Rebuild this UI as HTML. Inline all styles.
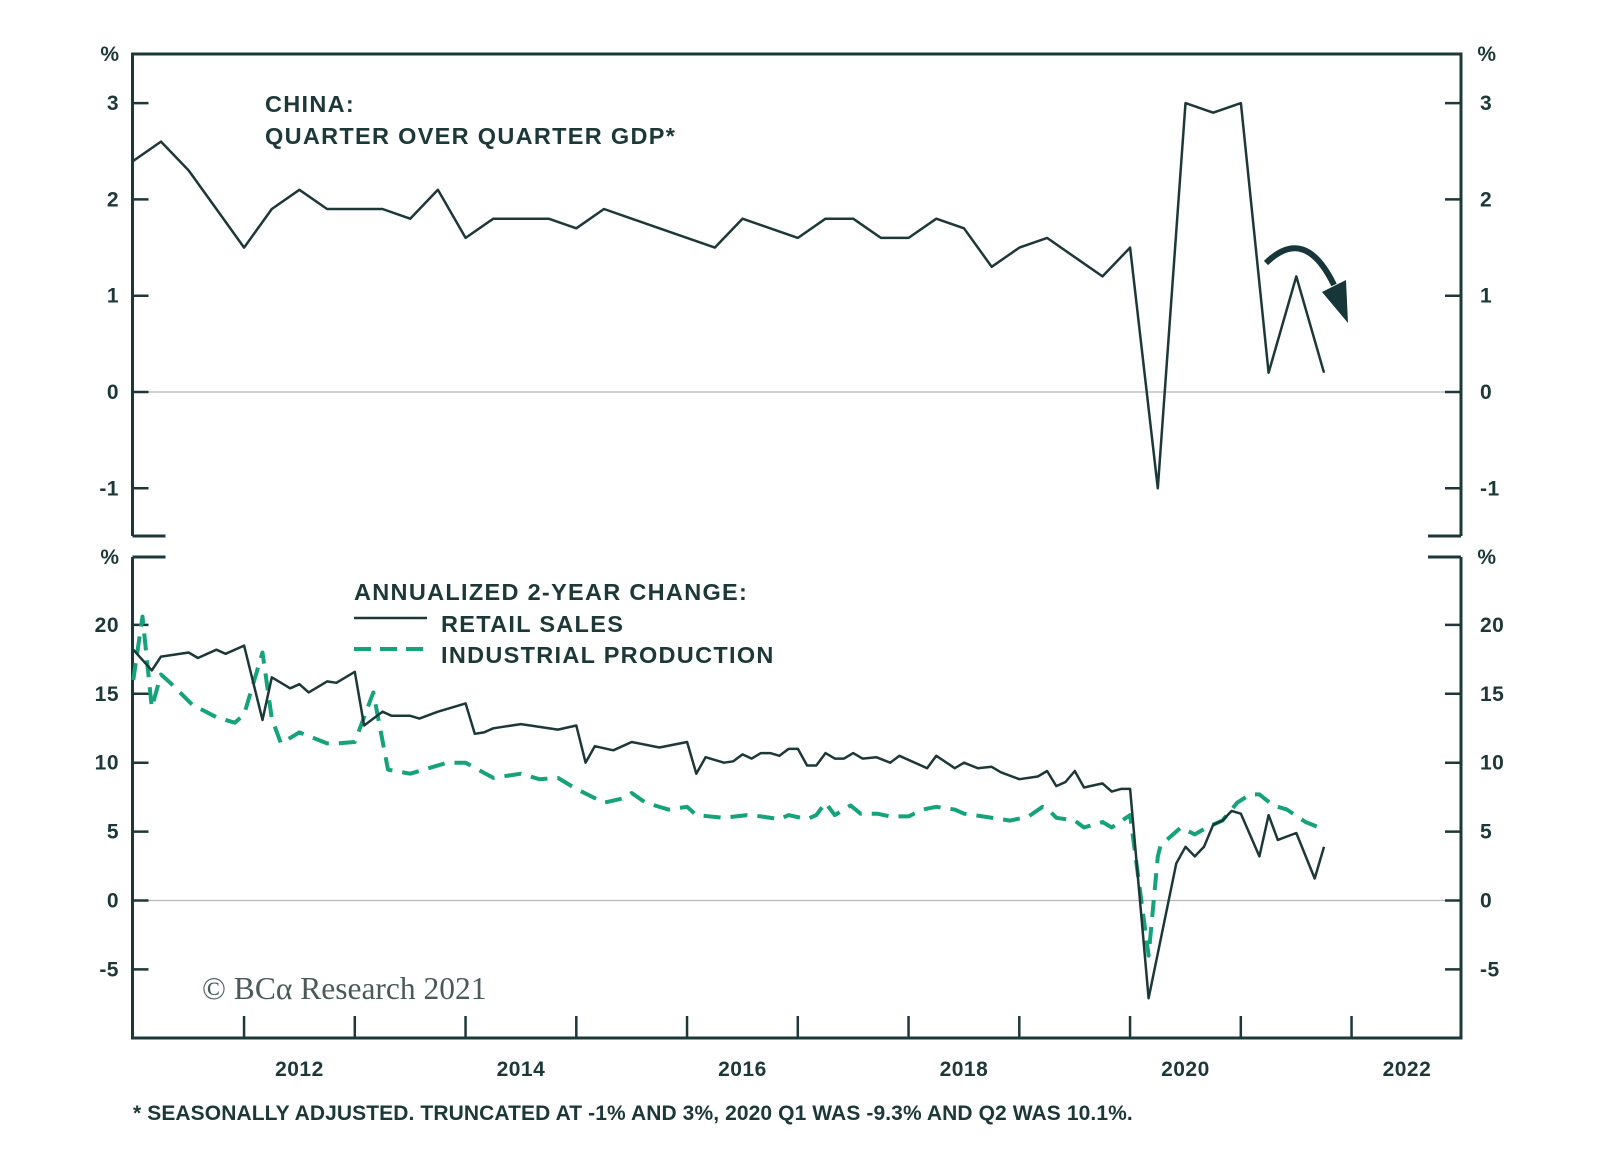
<!DOCTYPE html>
<html><head><meta charset="utf-8"><style>
html,body{margin:0;padding:0;background:#fff;}
svg{display:block;font-family:"Liberation Sans",Arial,sans-serif;}
.t{font-weight:bold;fill:#1d3838;font-size:21px;letter-spacing:0.5px;}
.h{font-size:23.5px;letter-spacing:1.3px;}
</style></head><body>
<svg id="chart" width="1600" height="1163" viewBox="0 0 1600 1163">
<g id="frame"></g>
<g id="zero"></g>
<g id="ticks"></g>
<g id="series"></g>
<text class="t h" x="265" y="112">CHINA:</text>
<text class="t h" x="265" y="144">QUARTER OVER QUARTER GDP*</text>
<text class="t h" x="354" y="600">ANNUALIZED 2-YEAR CHANGE:</text>
<line x1="354" y1="618" x2="427" y2="618" stroke="#1d3838" stroke-width="2.5"/>
<text class="t h" x="441" y="632">RETAIL SALES</text>
<line x1="354" y1="649" x2="430" y2="649" stroke="#14a37a" stroke-width="4" stroke-dasharray="17,9"/>
<text class="t h" x="441" y="663">INDUSTRIAL PRODUCTION</text>
<text x="202" y="999" font-family="'Liberation Serif',serif" font-size="31.5" fill="#4a5a5a">© BCα Research 2021</text>
<text class="t" x="133" y="1120" style="font-size:21px;letter-spacing:0.1px">* SEASONALLY ADJUSTED. TRUNCATED AT -1% AND 3%, 2020 Q1 WAS -9.3% AND Q2 WAS 10.1%.</text>
<path d="M1266,263 Q1305,225 1334,285" fill="none" stroke="#17363a" stroke-width="6"/>
<polygon points="1322,292 1346,280 1348,323" fill="#17363a"/>
</svg>
<script>
const gdpValues=[2.4,2.6,2.3,1.9,1.5,1.9,2.1,1.9,1.9,1.9,1.8,2.1,1.6,1.8,1.8,1.8,1.7,1.9,1.8,1.7,1.6,1.5,1.8,1.7,1.6,1.8,1.8,1.6,1.6,1.8,1.7,1.3,1.5,1.6,1.4,1.2,1.5,-1,3,2.9,3,0.2,1.2,0.2];
const retailMonths=[0,2,3,6,7,9,10,12,14,15,17,18,19,21,22,24,25,27,28,30,31,33,36,37,38,39,42,46,48,49,50,52,54,57,60,61,62,64,65,66,67,68,69,70,71,72,73,74,75,76,77,78,79,80.5,82,83,86,87,89,90,91.5,93,94,96,98,99,100,101,102,103,105,106,107,108,110,113,114,115,116,117,118,119,120,122,123,124,126,128,129];
const retailValues=[18.2,16.7,17.7,18.0,17.6,18.2,17.9,18.5,13.1,16.2,15.4,15.7,15.1,15.9,15.8,16.6,12.7,13.7,13.4,13.4,13.2,13.7,14.3,12.1,12.2,12.5,12.8,12.4,12.7,10.0,11.2,10.9,11.5,11.1,11.5,9.2,10.4,10.0,10.1,10.6,10.3,10.7,10.7,10.5,11.0,11.0,9.8,9.8,10.7,10.3,10.3,10.7,10.3,10.4,10.0,10.5,9.6,10.5,9.6,10.0,9.6,9.7,9.3,8.8,9.0,9.4,8.3,8.6,9.4,8.2,8.5,7.9,8.1,8.1,-7.1,2.7,3.9,3.2,3.9,5.5,5.8,6.5,6.3,3.2,6.2,4.4,4.9,1.6,3.9];
const ipMonths=[0,1,2,3,4,6.4,9,11,12,14,15,16,18,21,22,24,26,27.6,30,34,36,39,42,44,46,48,51,53,54,55.5,58,60,61,64,66.5,68,70,71,73,74,75,76,77.7,78.8,80.6,82,84,85.5,87,89,90,92,95,97,98.5,99,100,102,103,105,106,108,110,111,111.3,113.5,115,116.3,118,119.6,121,122,123.5,125,127,128.5];
const ipValues=[16.0,20.6,14.0,16.4,15.8,14.2,13.3,12.9,13.5,18.0,13.2,11.4,12.2,11.4,11.4,11.5,15.1,9.5,9.2,10.0,10.0,8.9,9.2,8.8,8.9,8.1,7.1,7.4,7.8,7.1,6.6,6.8,6.2,6.0,6.2,6.1,5.9,6.2,5.9,6.2,7.1,6.2,6.9,6.3,6.3,6.1,6.1,6.6,6.8,6.6,6.3,6.1,5.8,6.1,6.8,6.7,6.0,5.8,5.3,5.7,5.3,6.2,-4.0,3.2,4.0,5.3,4.8,5.3,5.8,7.1,7.7,7.7,6.9,6.6,5.7,5.3];
const topTicks=[3,2,1,0,-1];
const bottomTicks=[20,15,10,5,0,-5];
const yearLabels=[2012,2014,2016,2018,2020,2022];

const NS="http://www.w3.org/2000/svg";
const L=132.5,R=1461,TT=54,TB=536,BT=557,BB=1038,C="#1d3838";
const xM=i=>133.3+i*9.23;
const xY=y=>133.3+(y-2011)*110.75;
const yT=v=>392-96.3*v;
const yB=v=>900.5-13.78*v;
function mk(tag,attrs,parent){const e=document.createElementNS(NS,tag);for(const k in attrs)e.setAttribute(k,attrs[k]);parent.appendChild(e);return e;}
const frame=document.getElementById('frame'),ticks=document.getElementById('ticks'),zero=document.getElementById('zero'),series=document.getElementById('series');
let f=mk('path',{d:`M${L},${TB}V${TT}H${R}V${TB} M${L},${TB}H${L+33} M${R},${TB}H${R-33} M${L},${BT}V${BB}H${R}V${BT} M${L},${BT}H${L+33} M${R},${BT}H${R-33}`,fill:'none',stroke:C,'stroke-width':3},frame);


[[yT(0)],[yB(0)]].forEach(a=>{const z=mk('line',{x1:L,x2:R,y1:a[0],y2:a[0],stroke:'#b5b5b5','stroke-width':1.3},zero);

});
function yTicks(vals,fy,pct){
 vals.forEach(v=>{const y=fy(v);
  const t1=mk('path',{d:`M${L},${y}H${L+16} M${R},${y}H${R-16}`,stroke:C,'stroke-width':2.5},ticks);
  
  
  const a=mk('text',{class:'t',x:119,y:y+7,'text-anchor':'end'},ticks);a.textContent=v;
  
  
  const b=mk('text',{class:'t',x:1480,y:y+7},ticks);b.textContent=v;
  
  });
 [[110,'middle'],[1487,'middle']].forEach(p=>{const u=mk('text',{class:'t',x:p[0],y:pct+7,'text-anchor':p[1]},ticks);u.textContent='%';
 
 });
}
yTicks(topTicks,yT,TT);yTicks(bottomTicks,yB,BT);
for(let yr=2012;yr<=2022;yr++){const x=xY(yr);const t=mk('line',{x1:x,x2:x,y1:BB,y2:BB-22,stroke:C,'stroke-width':2.5},ticks);

}
yearLabels.forEach(yr=>{const t=mk('text',{class:'t',x:xY(yr+0.5),y:1076,'text-anchor':'middle'},ticks);t.textContent=yr;

});
const pts=(xs,ys,fx,fy)=>ys.map((v,i)=>fx(xs[i]).toFixed(1)+','+fy(v).toFixed(1)).join(' ');
const ipLine=mk('polyline',{points:pts(ipMonths,ipValues,xM,yB),fill:'none',stroke:'#14a37a','stroke-width':4,'stroke-dasharray':'17,10','stroke-linejoin':'round'},series);


const rLine=mk('polyline',{points:pts(retailMonths,retailValues,xM,yB),fill:'none',stroke:C,'stroke-width':2.5,'stroke-linejoin':'round'},series);


const gLine=mk('polyline',{points:pts(gdpValues.map((_,i)=>i*3),gdpValues,xM,yT),fill:'none',stroke:C,'stroke-width':2.5,'stroke-linejoin':'round'},series);


</script>
</body></html>
